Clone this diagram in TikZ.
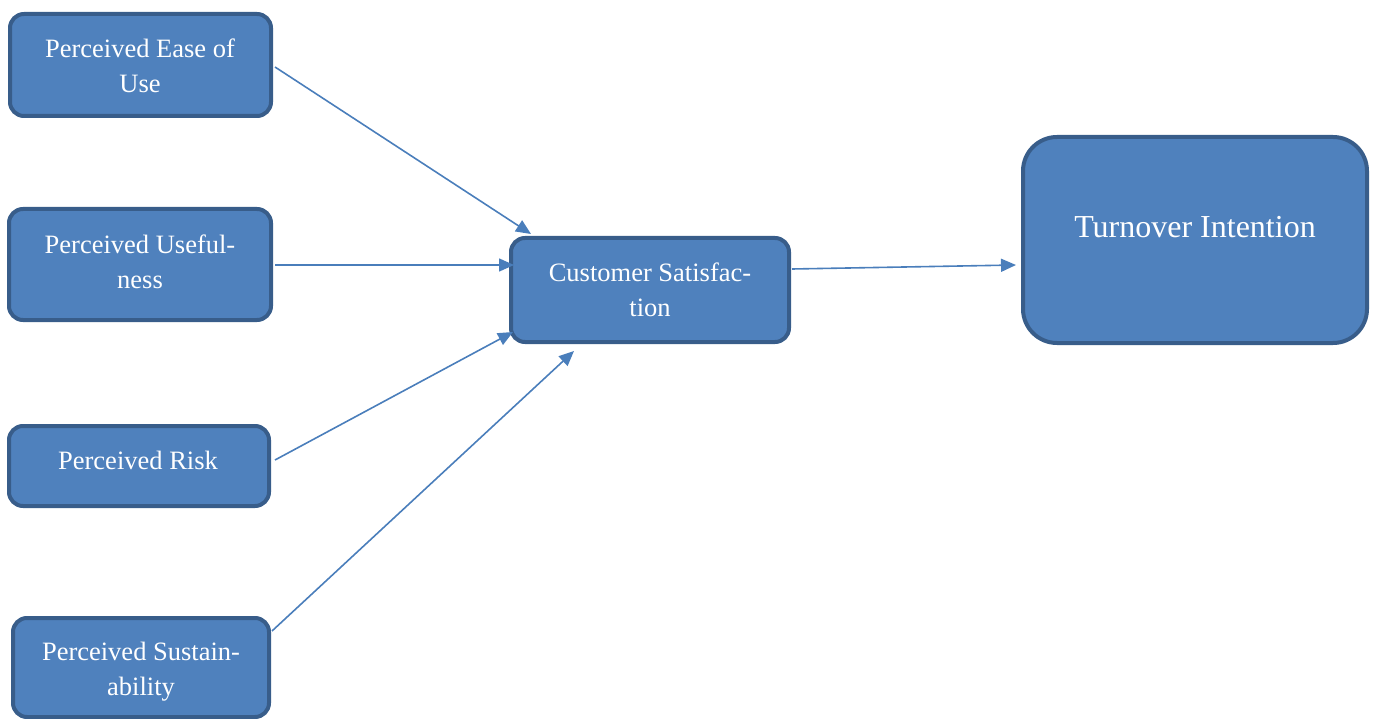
\documentclass[tikz,border=0pt]{standalone}
\usepackage{fontspec}
\setmainfont{Liberation Serif}
\usetikzlibrary{arrows.meta}
\definecolor{boxfill}{HTML}{4F81BD}
\definecolor{boxline}{HTML}{385D8A}
\definecolor{arrowc}{HTML}{4A7EBB}
\begin{document}
\begin{tikzpicture}[x=1pt,y=-1pt,
  box/.style={draw=boxline, line width=4pt, fill=boxfill, rounded corners=14pt},
  lbl/.style={text=white, font=\fontsize{26.5}{35}\selectfont, align=center, inner sep=0pt},
  conn/.style={draw=arrowc, line width=1.6pt, -{Triangle[length=15pt,width=13pt]}}]
\useasboundingbox (0,0) rectangle (1373,719);
% boxes
\draw[box] (10,14) rectangle (271,116);
\node[inner sep=0pt] (b1) at (140.5,65) {};
\draw[box] (9,209) rectangle (271,320);
\node[inner sep=0pt] (b2) at (140,264.5) {};
\draw[box] (9,426) rectangle (269,506);
\node[inner sep=0pt] (b3) at (139,466) {};
\draw[box] (13,618) rectangle (269,717);
\node[inner sep=0pt] (b4) at (141,667.5) {};
\draw[box] (511,238) rectangle (789,342);
\node[inner sep=0pt] (cs) at (650,290) {};
\draw[box, rounded corners=34pt] (1023,137) rectangle (1367,343);
\node[inner sep=0pt] (ti) at (1195,240) {};
% labels
\node[lbl] (t1) at (140,66) {Perceived Ease of\\Use};
\node[lbl] (t2) at (140,262) {Perceived Useful-\\ness};
\node[lbl] (t3) at (138,460) {Perceived Risk};
\node[lbl] (t4) at (141,672) {Perceived Sustain-\\ability};
\node[lbl] (t5) at (650,290) {Customer Satisfac-\\tion};
\node[lbl, font=\fontsize{32}{38}\selectfont] (t6) at (1195,227) {Turnover Intention};
% connector endpoints
\coordinate (s1) at (275,67);
\coordinate (e1) at (531,234);
\coordinate (s2) at (275,265);
\coordinate (e2) at (514,265);
\coordinate (s3) at (275,460);
\coordinate (e3) at (513,332);
\coordinate (s4) at (272,631);
\coordinate (e4) at (574,351);
\coordinate (s5) at (792,269);
\coordinate (e5) at (1016,265);
\draw[conn] (s1) -- (e1);
\draw[conn] (s2) -- (e2);
\draw[conn] (s3) -- (e3);
\draw[conn] (s4) -- (e4);
\draw[conn] (s5) -- (e5);
\end{tikzpicture}
\end{document}
